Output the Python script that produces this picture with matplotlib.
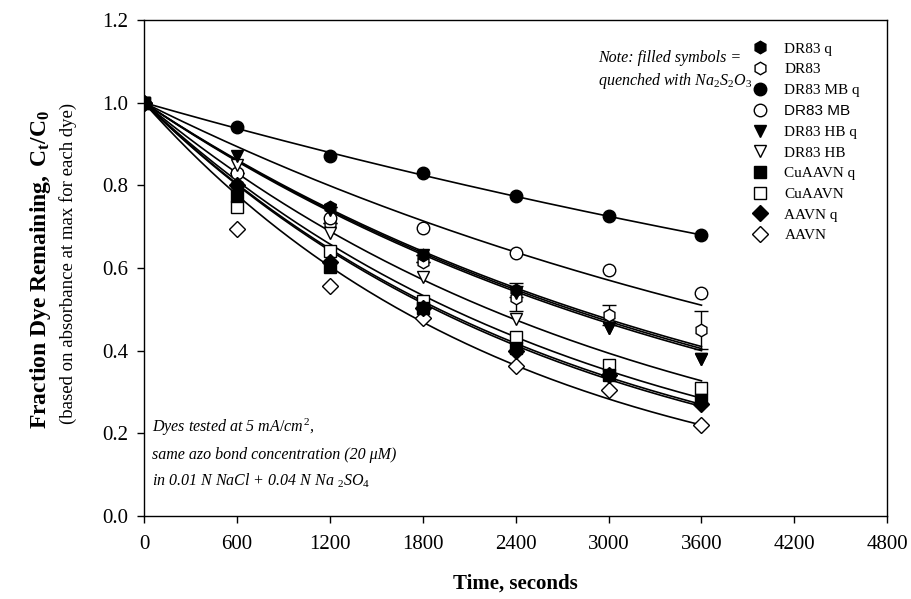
import matplotlib
matplotlib.use("Agg")
import matplotlib.pyplot as plt
import numpy as np

plt.rcParams['font.family'] = ['Liberation Serif', 'DejaVu Serif']
plt.rcParams['mathtext.fontset'] = 'custom'
plt.rcParams['mathtext.rm'] = 'Liberation Serif'
plt.rcParams['mathtext.it'] = 'Liberation Serif:italic'
plt.rcParams['mathtext.bf'] = 'Liberation Serif:bold'

# Sampling times (s)
time = [0, 600, 1200, 1800, 2400, 3000, 3600]

# Measured C/C0 for each dye, read off the figure
# (nan = symbol not visible in the picture)
names = ["DR83 q", "DR83", "DR83 MB q", "DR83 MB", "DR83 HB q", "DR83 HB",
         "CuAAVN q", "CuAAVN", "AAVN q", "AAVN"]
dr83_q = [1.0, 0.80, 0.748, 0.631, 0.547, np.nan, np.nan]
dr83 = [1.0, 0.83, 0.71, 0.615, 0.527, 0.486, 0.450]
dr83_mb_q = [1.0, 0.94, 0.871, 0.83, 0.775, 0.725, 0.68]
dr83_mb = [1.0, 0.83, 0.72, 0.696, 0.637, 0.595, 0.540]
dr83_hb_q = [1.0, 0.87, 0.74, 0.631, 0.54, 0.456, 0.379]
dr83_hb = [1.0, 0.85, 0.684, 0.579, 0.476, 0.455, 0.38]
cuaavn_q = [1.0, 0.773, 0.603, 0.503, 0.406, 0.341, 0.28]
cuaavn = [1.0, 0.748, 0.64, 0.519, 0.434, 0.365, 0.309]
aavn_q = [1.0, 0.80, 0.615, 0.503, 0.40, 0.341, 0.27]
aavn = [1.0, 0.694, 0.556, 0.478, 0.363, 0.305, 0.220]
series = [dr83_q, dr83, dr83_mb_q, dr83_mb, dr83_hb_q, dr83_hb,
          cuaavn_q, cuaavn, aavn_q, aavn]

# error bars (only on the DR83 runs)
dr83_q_err = [0, 0, 0, 0, 0.016, 0, 0]
dr83_err = [0, 0, 0, 0, 0.03, 0.025, 0.047]

# value of each fitted first-order curve at 3600 s
fit_end = [0.41, 0.405, 0.68, 0.51, 0.40, 0.327, 0.27, 0.285, 0.265, 0.22]

markers = ['h', 'h', 'o', 'o', 'v', 'v', 's', 's', 'D', 'D']
filled = [True, False] * 5

fig = plt.figure(figsize=(9.11, 5.99), dpi=100)
ax = fig.add_axes([0.158, 0.1386, 0.816, 0.828])

# fitted curves C/C0 = exp(-k t)
tt = np.linspace(0, 3600, 200)
for end in fit_end:
    k = -np.log(end) / 3600.0
    ax.plot(tt, np.exp(-k * tt), color='black', lw=1.2, zorder=2)

# error bars
ax.errorbar(time, dr83_q, yerr=dr83_q_err, fmt='none', ecolor='black',
            elinewidth=1.0, capsize=5, capthick=1.0, zorder=3)
ax.errorbar(time, dr83, yerr=dr83_err, fmt='none', ecolor='black',
            elinewidth=1.0, capsize=5, capthick=1.0, zorder=3)

# symbols (filled ones on top)
for name, ys, m, f in zip(names, series, markers, filled):
    ms = 8 if m == 'D' else 9
    ax.plot(time, ys, linestyle='none', marker=m, ms=ms,
            markerfacecolor='black' if f else 'white',
            markeredgecolor='black', markeredgewidth=1.0,
            label=name, zorder=5 if f else 4)

ax.set_xlim(0, 4800)
ax.set_ylim(0, 1.2)
ax.set_xticks(np.arange(0, 4801, 600))
ax.set_yticks(np.arange(0, 1.21, 0.2))
ax.set_yticklabels([f"{v:.1f}" for v in np.arange(0, 1.21, 0.2)])
ax.tick_params(direction='out', length=5, width=1, labelsize=15, pad=6,
               top=False, right=False)
ax.tick_params(axis='x', pad=9)
for s in ax.spines.values():
    s.set_linewidth(1.0)

ax.set_xlabel("Time, seconds", fontsize=15, fontweight='bold', labelpad=14)
fig.text(0.044, 0.55, r"$\mathbf{Fraction\ Dye\ Remaining,\ C_t/C_0}$",
         rotation=90, ha='center', va='center', fontsize=17)
fig.text(0.075, 0.56, "(based on absorbance at max for each dye)",
         rotation=90, ha='center', va='center', fontsize=13.5)

leg = ax.legend(loc='upper left', bbox_to_anchor=(0.80, 0.968), frameon=False,
                fontsize=11, handletextpad=0.6, labelspacing=0.46,
                borderaxespad=0)
for txt in leg.get_texts():
    if txt.get_text() == "DR83 MB":
        txt.set_family(['Liberation Sans', 'DejaVu Sans'])

ax.text(2930, 1.108, "Note: filled symbols =", fontsize=11.5, style='italic',
        ha='left', va='center')
ax.text(2930, 1.052, r"quenched with $Na_2S_2O_3$", fontsize=11.5,
        style='italic', ha='left', va='center')

ax.text(50, 0.215, r"Dyes tested at 5 $mA/cm^2$,", fontsize=11.5,
        style='italic', ha='left', va='center')
ax.text(50, 0.148, "same azo bond concentration (20 μM)", fontsize=11.5,
        style='italic', ha='left', va='center')
ax.text(50, 0.085, r"in 0.01 N NaCl + 0.04 N Na $_2SO_4$", fontsize=11.5,
        style='italic', ha='left', va='center')

fig.savefig("out.png", dpi=100)
